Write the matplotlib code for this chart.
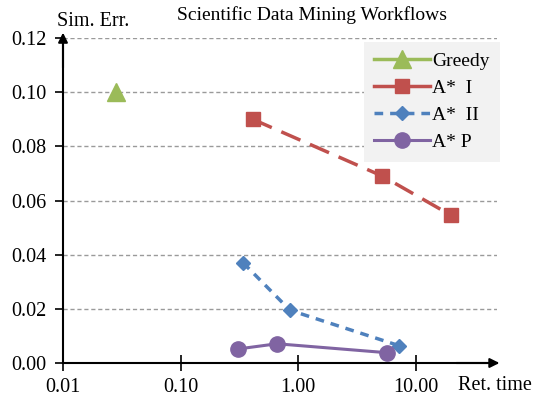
import matplotlib
matplotlib.use("Agg")
import matplotlib.pyplot as plt
from matplotlib.lines import Line2D

plt.rcParams['font.family'] = ['Liberation Serif', 'DejaVu Serif']

# Data
greedy_x = [0.028]
greedy_y = [0.100]
astar_i_x = [0.41, 5.2, 20.0]
astar_i_y = [0.090, 0.069, 0.0545]
astar_ii_x = [0.34, 0.85, 7.2]
astar_ii_y = [0.037, 0.0195, 0.0064]
astar_p_x = [0.31, 0.66, 5.7]
astar_p_y = [0.0052, 0.0071, 0.0038]

y_ticks = [0.00, 0.02, 0.04, 0.06, 0.08, 0.10, 0.12]
x_ticks = [0.01, 0.1, 1, 10]
x_tick_labels = ['0.01', '0.10', '1.00', '10.00']

green = '#9BBB59'
red = '#C0504D'
blue = '#4F81BD'
purple = '#8064A2'

W, H = 542, 399
fig = plt.figure(figsize=(W/100, H/100), dpi=100)
left, right, bottom, top = 63, 497, 363, 38
ax = fig.add_axes([left/W, 1-bottom/H, (right-left)/W, (bottom-top)/H])

ax.set_xscale('log')
ax.set_xlim(0.01, 49)
ax.set_ylim(0, 0.12)

for yv in y_ticks[1:]:
    ax.axhline(yv, color='#9a9a9a', lw=1.0, ls=(0, (3, 2)), zorder=1)

ax.plot(greedy_x, greedy_y, color=green, lw=2.5, marker='^', ms=13, zorder=3, clip_on=False)
ax.plot(astar_i_x, astar_i_y, color=red, lw=2.5, ls=(0, (6, 3)), marker='s', ms=10, zorder=3, clip_on=False)
ax.plot(astar_ii_x, astar_ii_y, color=blue, lw=2.5, ls=(0, (2.5, 2)), marker='D', ms=7.5, zorder=3, clip_on=False)
ax.plot(astar_p_x, astar_p_y, color=purple, lw=2.2, marker='o', ms=11, zorder=3, clip_on=False)

for s in ['top', 'right']:
    ax.spines[s].set_visible(False)
for s in ['left', 'bottom']:
    ax.spines[s].set_linewidth(1.5)
    ax.spines[s].set_color('black')
    ax.spines[s].set_zorder(4)

ax.set_yticks(y_ticks)
ax.set_yticklabels([f'{v:.2f}' for v in y_ticks])
ax.set_xticks(x_ticks)
ax.set_xticklabels(x_tick_labels)
ax.xaxis.set_minor_locator(matplotlib.ticker.NullLocator())
ax.tick_params(axis='y', direction='out', length=6, width=1.2, labelsize=14.5, pad=6)
ax.tick_params(axis='x', direction='inout', length=12, width=1.2, labelsize=14.5, pad=5)

# axis arrows
ax.annotate('', xy=(0, 1.025), xytext=(0, 0.9), xycoords='axes fraction',
            arrowprops=dict(arrowstyle='-|>', color='black', lw=1.5, mutation_scale=14), zorder=5)
ax.annotate('', xy=(1.012, 0), xytext=(0.9, 0), xycoords='axes fraction',
            arrowprops=dict(arrowstyle='-|>', color='black', lw=1.5, mutation_scale=14), zorder=5)

fig.text(312/W, 1-15/H, 'Scientific Data Mining Workflows', ha='center', va='center', fontsize=14)
fig.text(93/W, 1-21/H, 'Sim. Err.', ha='center', va='center', fontsize=14.5)
fig.text(495/W, 1-386/H, 'Ret. time', ha='center', va='center', fontsize=14.5)

handles = [
    Line2D([], [], color=green, lw=2.5, marker='^', ms=13),
    Line2D([], [], color=red, lw=2.5, marker='s', ms=10),
    Line2D([], [], color=blue, lw=2.5, ls=(0, (2.5, 2)), marker='D', ms=7.5),
    Line2D([], [], color=purple, lw=2.2, marker='o', ms=11),
]
labels = ['Greedy', 'A*  I', 'A*  II', 'A* P']
leg = ax.legend(handles, labels, loc='upper right', bbox_to_anchor=(1.007, 0.988),
                fontsize=14, frameon=True, fancybox=False, facecolor='#f2f2f2',
                edgecolor='none', framealpha=1, handlelength=2.85, handletextpad=0.1,
                labelspacing=0.48, borderpad=0.55, borderaxespad=0)
leg.set_zorder(6)

fig.savefig('out.png', dpi=100)
